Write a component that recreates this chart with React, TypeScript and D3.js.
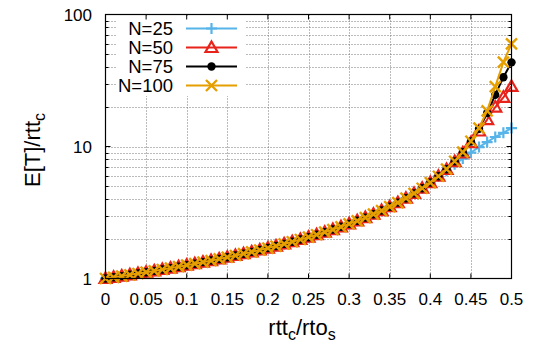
import React from 'react';
import * as d3 from 'd3';

// ---------------- data ----------------
const xValues = [
  0, 0.01, 0.02, 0.03, 0.04, 0.05, 0.06, 0.07, 0.08, 0.09,
  0.1, 0.11, 0.12, 0.13, 0.14, 0.15, 0.16, 0.17, 0.18, 0.19,
  0.2, 0.21, 0.22, 0.23, 0.24, 0.25, 0.26, 0.27, 0.28, 0.29,
  0.3, 0.31, 0.32, 0.33, 0.34, 0.35, 0.36, 0.37, 0.38, 0.39,
  0.4, 0.41, 0.42, 0.43, 0.44, 0.45, 0.46, 0.47, 0.48, 0.49, 0.5,
];

// values shared by all N for x = 0 .. 0.41 (curves overlap there)
const sharedLow = [
  1.0, 1.021, 1.043, 1.067, 1.091, 1.116, 1.142, 1.17, 1.199, 1.229,
  1.261, 1.295, 1.33, 1.368, 1.407, 1.449, 1.494, 1.541, 1.591, 1.644,
  1.701, 1.762, 1.828, 1.898, 1.974, 2.056, 2.145, 2.243, 2.349, 2.465,
  2.593, 2.735, 2.894, 3.071, 3.271, 3.498, 3.758, 4.059, 4.411, 4.829,
  5.333, 5.95,
];

// x = 0.42 .. 0.5
const tailN25 = [6.55, 7.35, 8.1, 9.0, 9.9, 10.8, 11.8, 12.7, 13.8];
const tailN50 = [6.7, 7.68, 8.95, 10.7, 13.1, 16.0, 19.9, 23.6, 28.5];
const tailN75 = [6.72, 7.72, 9.05, 10.9, 13.6, 17.9, 24.6, 33.5, 43.4];
const tailN100 = [6.73, 7.73, 9.07, 10.96, 13.8, 18.6, 28.4, 43.5, 60.0];

const seriesNames = ['N=25', 'N=50', 'N=75', 'N=100'];
const seriesValues = [
  [...sharedLow, ...tailN25],
  [...sharedLow, ...tailN50],
  [...sharedLow, ...tailN75],
  [...sharedLow, ...tailN100],
];
const seriesColors = ['#56b4e9', '#e8231b', '#000000', '#e69f00'];
const seriesMarkers = ['plus', 'triangle', 'circle', 'cross'];

const xTicks = [0, 0.05, 0.1, 0.15, 0.2, 0.25, 0.3, 0.35, 0.4, 0.45, 0.5];
const xTickLabels = ['0', '0.05', '0.1', '0.15', '0.2', '0.25', '0.3', '0.35', '0.4', '0.45', '0.5'];
const yTicks = [1, 10, 100];
const yTickLabels = ['1', '10', '100'];
const yMinorTicks = [2, 3, 4, 5, 6, 7, 8, 9, 20, 30, 40, 50, 60, 70, 80, 90];

// ---------------- layout ----------------
const W = 535;
const H = 352;
const L = 105.5;
const R = 511.5;
const T = 14.5;
const B = 278.5;
const FONT = '"Liberation Sans", Arial, Helvetica, sans-serif';

const x = d3.scaleLinear().domain([0, 0.5]).range([L, R]);
const y = d3.scaleLog().domain([1, 100]).range([B, T]);

function Marker({ type, cx, cy, color }: { type: string; cx: number; cy: number; color: string }) {
  const s = 5.5;
  if (type === 'plus') {
    return <path d={`M${cx - s},${cy}H${cx + s}M${cx},${cy - s}V${cy + s}`} stroke={color} strokeWidth={2.2} fill="none" />;
  }
  if (type === 'cross') {
    return <path d={`M${cx - s},${cy - s}L${cx + s},${cy + s}M${cx - s},${cy + s}L${cx + s},${cy - s}`} stroke={color} strokeWidth={2.4} fill="none" />;
  }
  if (type === 'triangle') {
    return <path d={`M${cx},${cy - 6}L${cx + 6},${cy + 4.5}L${cx - 6},${cy + 4.5}Z`} stroke={color} strokeWidth={2.2} fill="none" strokeLinejoin="miter" />;
  }
  return <circle cx={cx} cy={cy} r={4.2} fill={color} />;
}

export default function App() {
  const line = d3.line<[number, number]>().x((d) => x(d[0])).y((d) => y(d[1]));
  const gridStyle = { stroke: '#777', strokeWidth: 1, strokeDasharray: '1,2', fill: 'none' };
  const legendRowY = (i: number) => 28.5 + 19 * i;
  return (
    <svg width={W} height={H} style={{ position: 'absolute', left: 0, top: 0, background: '#fff' }} fontFamily={FONT}>
      <rect x={0} y={0} width={W} height={H} fill="#fff" />
      {/* grid */}
      {xTicks.slice(1, -1).map((t) => (
        <line key={`gx${t}`} x1={Math.round(x(t)) + 0.5} x2={Math.round(x(t)) + 0.5} y1={T} y2={B} style={gridStyle} />
      ))}
      {[...yMinorTicks, 10].map((t) => (
        <line key={`gy${t}`} x1={L} x2={R} y1={Math.round(y(t)) + 0.5} y2={Math.round(y(t)) + 0.5} style={gridStyle} />
      ))}
      {/* legend box (opaque) */}
      <rect x={116} y={17} width={130} height={79} fill="#fff" />
      {/* ticks */}
      {xTicks.map((t) => (
        <g key={`tx${t}`}>
          <line x1={x(t)} x2={x(t)} y1={B} y2={B - 5} stroke="#000" strokeWidth={1} />
          <line x1={x(t)} x2={x(t)} y1={T} y2={T + 5} stroke="#000" strokeWidth={1} />
        </g>
      ))}
      {yTicks.map((t) => (
        <g key={`ty${t}`}>
          <line x1={L} x2={L + 5} y1={y(t)} y2={y(t)} stroke="#000" strokeWidth={1} />
          <line x1={R} x2={R - 5} y1={y(t)} y2={y(t)} stroke="#000" strokeWidth={1} />
        </g>
      ))}
      {yMinorTicks.map((t) => (
        <g key={`tym${t}`}>
          <line x1={L} x2={L + 3} y1={Math.round(y(t)) + 0.5} y2={Math.round(y(t)) + 0.5} stroke="#000" strokeWidth={1} />
          <line x1={R} x2={R - 3} y1={Math.round(y(t)) + 0.5} y2={Math.round(y(t)) + 0.5} stroke="#000" strokeWidth={1} />
        </g>
      ))}
      {/* series */}
      {seriesValues.map((vals, si) => {
        const pts: [number, number][] = vals.map((v, i) => [xValues[i], v]);
        return (
          <g key={`s${si}`}>
            <path d={line(pts) || ''} stroke={seriesColors[si]} strokeWidth={2} fill="none" strokeLinejoin="round" />
            {pts.map((p, i) => (
              <Marker key={i} type={seriesMarkers[si]} cx={x(p[0])} cy={y(p[1])} color={seriesColors[si]} />
            ))}
          </g>
        );
      })}
      {/* border */}
      <rect x={L} y={T} width={R - L} height={B - T} fill="none" stroke="#000" strokeWidth={1.2} />
      {/* tick labels */}
      {xTicks.map((t, i) => (
        <text key={`lx${t}`} x={x(t)} y={305} textAnchor="middle" fontSize={17} fill="#000">{xTickLabels[i]}</text>
      ))}
      {yTicks.map((t, i) => (
        <text key={`ly${t}`} x={92} y={y(t) + 6} textAnchor="end" fontSize={17} fill="#000">{yTickLabels[i]}</text>
      ))}
      {/* legend */}
      {seriesNames.map((n, i) => (
        <g key={`lg${i}`}>
          <text x={173} y={legendRowY(i) + 6.5} textAnchor="end" fontSize={18.5} fill="#000">{n}</text>
          <line x1={186} x2={237} y1={legendRowY(i)} y2={legendRowY(i)} stroke={seriesColors[i]} strokeWidth={2} />
          <Marker type={seriesMarkers[i]} cx={211.5} cy={legendRowY(i)} color={seriesColors[i]} />
        </g>
      ))}
      {/* axis labels */}
      <text x={302} y={335} textAnchor="middle" fontSize={22} fill="#000">
        rtt<tspan fontSize={16} dy={5}>c</tspan><tspan dy={-5}>/rto</tspan><tspan fontSize={16} dy={5}>s</tspan>
      </text>
      <text transform={`translate(40,150) rotate(-90)`} textAnchor="middle" fontSize={22} fill="#000">
        E[T]/rtt<tspan fontSize={16} dy={5}>c</tspan>
      </text>
    </svg>
  );
}
